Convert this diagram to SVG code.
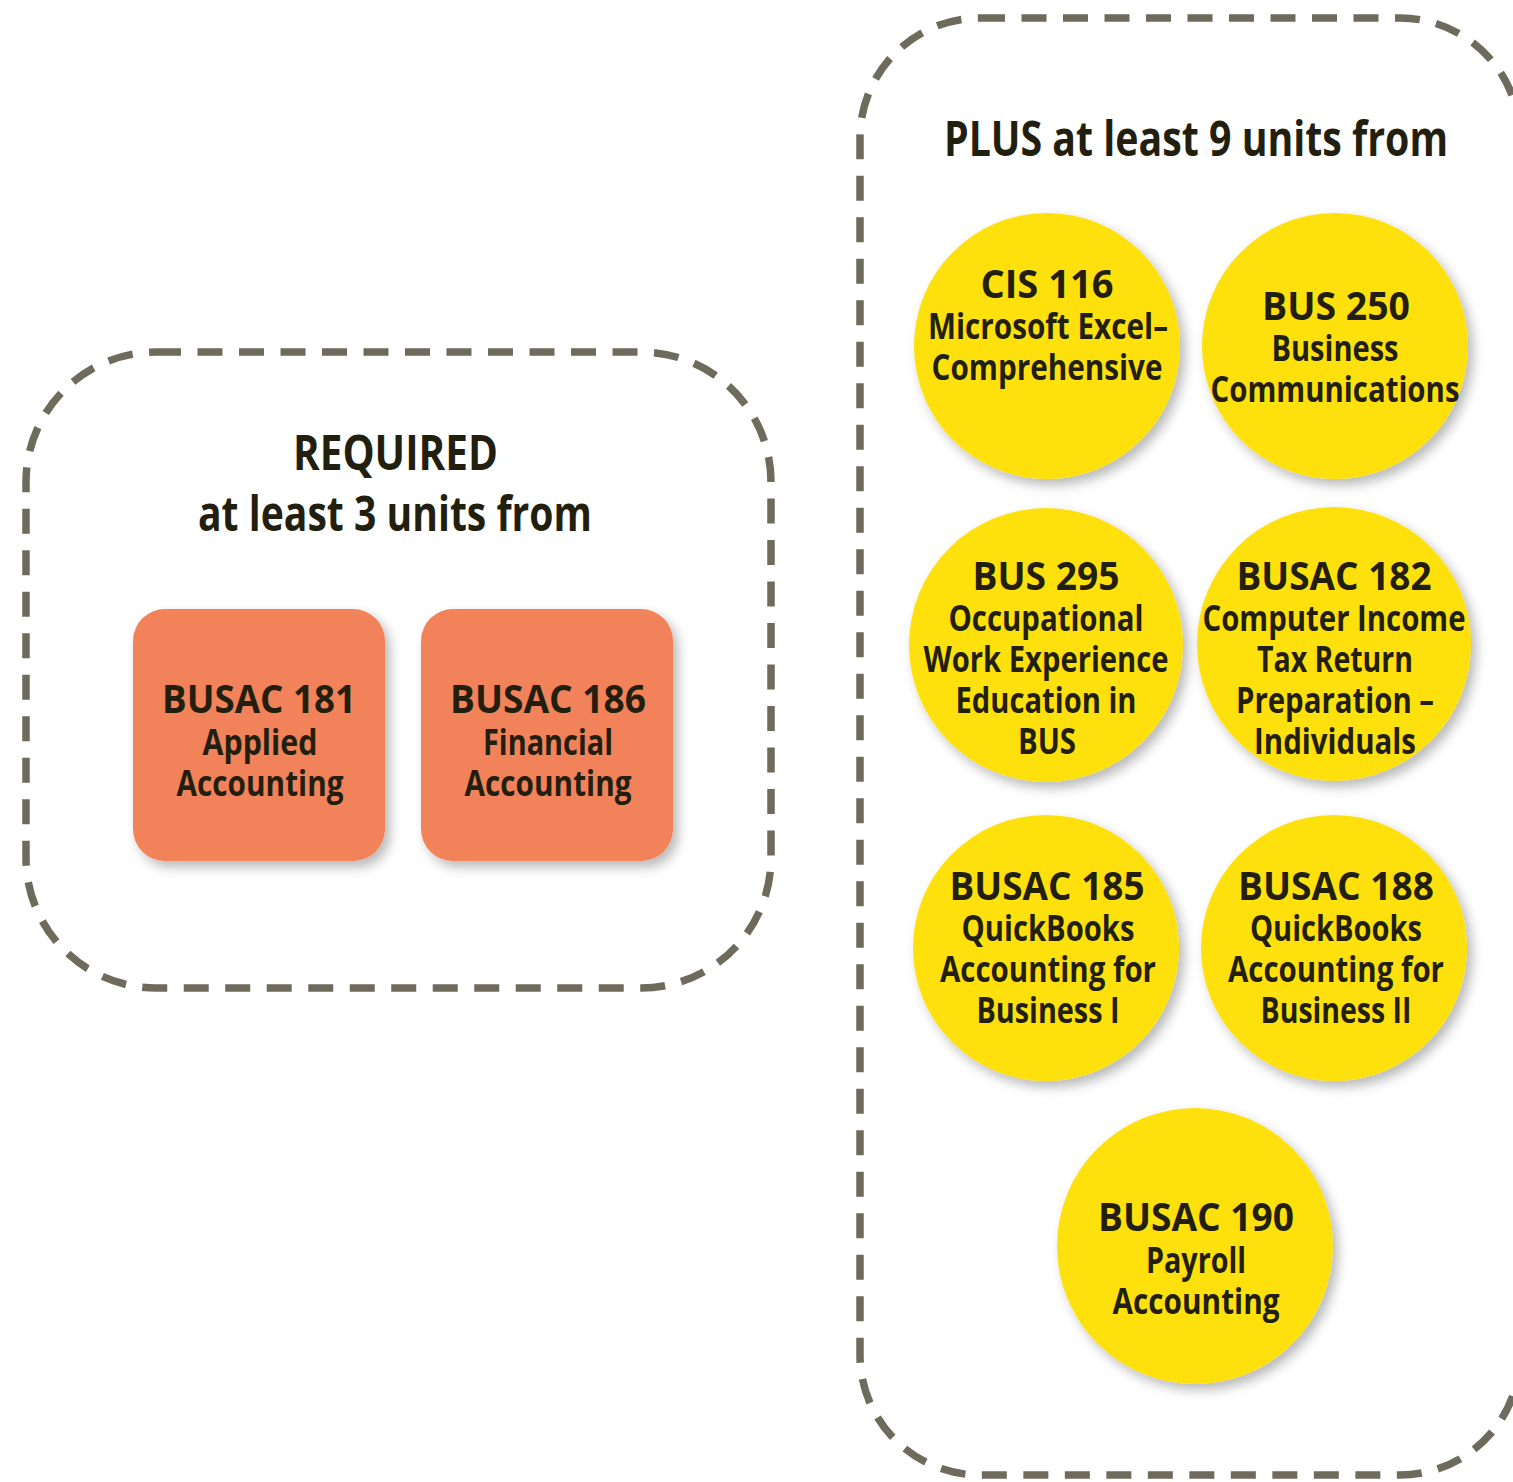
<svg xmlns="http://www.w3.org/2000/svg" width="1513" height="1482" viewBox="0 0 1513 1482">
<defs>
<filter id="sh" x="-20%" y="-20%" width="150%" height="150%">
<feDropShadow dx="5" dy="6" stdDeviation="6" flood-color="#000" flood-opacity="0.28"/>
</filter>
<style>
.frame{fill:none;stroke:#6e6b5d;stroke-width:7.5;stroke-dasharray:25 16.5}
.rq{fill:#f2825a;filter:url(#sh)}
.el{fill:#fee011;filter:url(#sh)}
text{font-family:"Open Sans","Noto Sans","Liberation Sans",sans-serif;fill:#231f0f;text-anchor:middle}
.hd{font-size:49px;font-weight:700}
.t{font-size:40px;font-weight:700}
.s{font-size:35px;font-weight:700}
</style>
</defs>
<rect width="1513" height="1482" fill="#ffffff"/>
<g id="required-group">
<rect class="frame" x="26" y="352" width="745" height="636" rx="130"/>
<text class="hd" x="395.5" y="470" textLength="205" lengthAdjust="spacingAndGlyphs">REQUIRED</text>
<text class="hd" x="395" y="531" textLength="394" lengthAdjust="spacingAndGlyphs">at least 3 units from</text>
</g>
<g id="plus-group">
<rect class="frame" x="860" y="18" width="660" height="1457" rx="120"/>
<text class="hd" x="1196" y="156" textLength="504" lengthAdjust="spacingAndGlyphs">PLUS at least 9 units from</text>
</g>
<g id="connectors"/>
<g id="busac181">
<rect class="rq" x="133" y="609" width="252" height="252" rx="32"/>
<text class="t" x="259" y="713" textLength="194" lengthAdjust="spacingAndGlyphs">BUSAC 181</text>
<text class="s" x="260" y="755" textLength="115" lengthAdjust="spacingAndGlyphs">Applied</text>
<text class="s" x="260" y="796" textLength="167" lengthAdjust="spacingAndGlyphs">Accounting</text>
</g>
<g id="busac186">
<rect class="rq" x="421" y="609" width="252" height="252" rx="32"/>
<text class="t" x="548" y="713" textLength="196" lengthAdjust="spacingAndGlyphs">BUSAC 186</text>
<text class="s" x="548" y="755" textLength="130" lengthAdjust="spacingAndGlyphs">Financial</text>
<text class="s" x="548" y="796" textLength="167" lengthAdjust="spacingAndGlyphs">Accounting</text>
</g>
<g id="cis116">
<circle class="el" cx="1047" cy="346" r="133"/>
<text class="t" x="1047" y="298" textLength="133" lengthAdjust="spacingAndGlyphs">CIS 116</text>
<text class="s" x="1048" y="339" textLength="240" lengthAdjust="spacingAndGlyphs">Microsoft Excel–</text>
<text class="s" x="1047" y="380" textLength="231" lengthAdjust="spacingAndGlyphs">Comprehensive</text>
</g>
<g id="bus250">
<circle class="el" cx="1335" cy="346" r="133"/>
<text class="t" x="1336" y="320" textLength="148" lengthAdjust="spacingAndGlyphs">BUS 250</text>
<text class="s" x="1335" y="361" textLength="127" lengthAdjust="spacingAndGlyphs">Business</text>
<text class="s" x="1335" y="402" textLength="249" lengthAdjust="spacingAndGlyphs">Communications</text>
</g>
<g id="bus295">
<circle class="el" cx="1046" cy="645" r="137"/>
<text class="t" x="1046" y="590" textLength="147" lengthAdjust="spacingAndGlyphs">BUS 295</text>
<text class="s" x="1046" y="631" textLength="195" lengthAdjust="spacingAndGlyphs">Occupational</text>
<text class="s" x="1046" y="672" textLength="245" lengthAdjust="spacingAndGlyphs">Work Experience</text>
<text class="s" x="1046" y="713" textLength="181" lengthAdjust="spacingAndGlyphs">Education in</text>
<text class="s" x="1047" y="754" textLength="58" lengthAdjust="spacingAndGlyphs">BUS</text>
</g>
<g id="busac182">
<circle class="el" cx="1334" cy="644" r="137"/>
<text class="t" x="1334" y="590" textLength="195" lengthAdjust="spacingAndGlyphs">BUSAC 182</text>
<text class="s" x="1334" y="631" textLength="263" lengthAdjust="spacingAndGlyphs">Computer Income</text>
<text class="s" x="1335" y="672" textLength="156" lengthAdjust="spacingAndGlyphs">Tax Return</text>
<text class="s" x="1335" y="713" textLength="198" lengthAdjust="spacingAndGlyphs">Preparation –</text>
<text class="s" x="1335" y="754" textLength="162" lengthAdjust="spacingAndGlyphs">Individuals</text>
</g>
<g id="busac185">
<circle class="el" cx="1046" cy="948" r="133"/>
<text class="t" x="1047" y="900" textLength="195" lengthAdjust="spacingAndGlyphs">BUSAC 185</text>
<text class="s" x="1048" y="941" textLength="173" lengthAdjust="spacingAndGlyphs">QuickBooks</text>
<text class="s" x="1048" y="982" textLength="216" lengthAdjust="spacingAndGlyphs">Accounting for</text>
<text class="s" x="1048" y="1023" textLength="143" lengthAdjust="spacingAndGlyphs">Business I</text>
</g>
<g id="busac188">
<circle class="el" cx="1334" cy="948" r="133"/>
<text class="t" x="1336" y="900" textLength="196" lengthAdjust="spacingAndGlyphs">BUSAC 188</text>
<text class="s" x="1336" y="941" textLength="172" lengthAdjust="spacingAndGlyphs">QuickBooks</text>
<text class="s" x="1336" y="982" textLength="216" lengthAdjust="spacingAndGlyphs">Accounting for</text>
<text class="s" x="1336" y="1023" textLength="151" lengthAdjust="spacingAndGlyphs">Business II</text>
</g>
<g id="busac190">
<circle class="el" cx="1195" cy="1246" r="138"/>
<text class="t" x="1196" y="1231" textLength="196" lengthAdjust="spacingAndGlyphs">BUSAC 190</text>
<text class="s" x="1196" y="1273" textLength="100" lengthAdjust="spacingAndGlyphs">Payroll</text>
<text class="s" x="1196" y="1314" textLength="167" lengthAdjust="spacingAndGlyphs">Accounting</text>
</g>
</svg>
